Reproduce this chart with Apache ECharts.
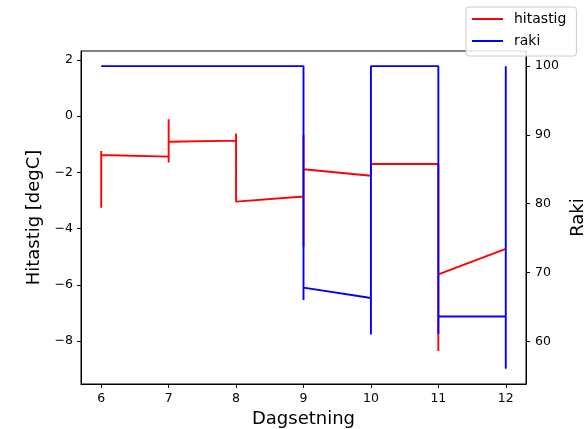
<!DOCTYPE html>
<html><head><meta charset="utf-8">
<script src="https://cdn.jsdelivr.net/npm/echarts@6/dist/echarts.min.js"></script>
<style>html,body{margin:0;padding:0;background:#fff}#c{width:584px;height:429px}</style>
</head><body><div id="c"></div>
<script>
// Data (Dagsetning = day, several readings per day)
const hitastigX = [6,6,6,7,7,7,7,8,8,8,9,9,9,9,10,10,11,11,11,12];
const hitastigY = [-1.24,-3.26,-1.38,-1.44,-1.65,-0.11,-0.91,-0.87,-0.62,-3.04,-2.86,-4.65,-0.67,-1.89,-2.12,-1.70,-1.70,-8.36,-5.63,-4.72];
const rakiX = [6,7,7,7,8,9,9,9,10,10,10,11,11,11,12,12,12];
const rakiY = [100,100,99.8,100,100,100,66.0,67.8,66.3,61.0,100,100,61.1,63.6,63.6,100,56.0];
const xTicks = [6,7,8,9,10,11,12];
const leftTicks = [-8,-6,-4,-2,0,2];
const rightTicks = [60,70,80,90,100];

const FONT = 'DejaVu Sans';
const fmt = v => String(v).replace('-', '\u2212');
const zip = (xs, ys) => xs.map((x, i) => [x, ys[i]]);

const chart = echarts.init(document.getElementById('c'), null, {renderer: 'canvas'});
const axisCommon = {
  axisLine: {show: true, onZero: false, lineStyle: {color: '#000', width: 1}},
  splitLine: {show: false},
  nameTextStyle: {fontFamily: FONT, fontSize: 18, color: '#000'}
};
chart.setOption({
  animation: false,
  backgroundColor: '#fff',
  grid: {left: 81, right: 58, top: 51, bottom: 45, show: true, borderColor: '#000', borderWidth: 1,
         containLabel: false, outerBoundsMode: 'none'},
  legend: {
    orient: 'vertical', left: 466, top: 7,
    data: ['hitastig', 'raki'],
    icon: 'rect', itemWidth: 31, itemHeight: 2, itemGap: 8,
    padding: [5, 10, 8, 6],
    backgroundColor: 'rgba(255,255,255,0.85)', borderColor: '#cccccc', borderWidth: 1, borderRadius: 3,
    textStyle: {fontFamily: FONT, fontSize: 14, color: '#000', lineHeight: 14, padding: [0, 0, 0, 6]}
  },
  xAxis: Object.assign({}, axisCommon, {
    type: 'value', min: 5.7, max: 12.3,
    name: 'Dagsetning', nameLocation: 'middle', nameGap: 24,
    axisTick: {show: true, length: 4, inside: false, customValues: xTicks, lineStyle: {color: '#000'}},
    axisLabel: {customValues: xTicks, formatter: fmt, fontFamily: FONT, fontSize: 12.5, color: '#000', margin: 8}
  }),
  yAxis: [
    Object.assign({}, axisCommon, {
      type: 'value', position: 'left', min: -9.53, max: 2.32,
      name: 'Hitastig [degC]', nameLocation: 'middle', nameGap: 28, nameRotate: 90,
      axisTick: {show: true, length: 4, inside: false, customValues: leftTicks, lineStyle: {color: '#000'}},
      axisLabel: {customValues: leftTicks, formatter: fmt, fontFamily: FONT, fontSize: 12.5, color: '#000', margin: 8}
    }),
    Object.assign({}, axisCommon, {
      type: 'value', position: 'right', min: 53.8, max: 102.2,
      name: 'Raki', nameLocation: 'middle', nameGap: 40, nameRotate: 90,
      axisTick: {show: true, length: 4, inside: false, customValues: rightTicks, lineStyle: {color: '#000'}},
      axisLabel: {customValues: rightTicks, formatter: fmt, fontFamily: FONT, fontSize: 12.5, color: '#000', margin: 9}
    })
  ],
  series: [
    {name: 'hitastig', type: 'line', yAxisIndex: 0, data: zip(hitastigX, hitastigY),
     showSymbol: false, symbol: 'none', color: '#ff0000', lineStyle: {color: '#ff0000', width: 1.9}, z: 2},
    {name: 'raki', type: 'line', yAxisIndex: 1, data: zip(rakiX, rakiY),
     showSymbol: false, symbol: 'none', color: '#0000ff', lineStyle: {color: '#0000ff', width: 1.9}, z: 3}
  ]
});
</script>
</body></html>
